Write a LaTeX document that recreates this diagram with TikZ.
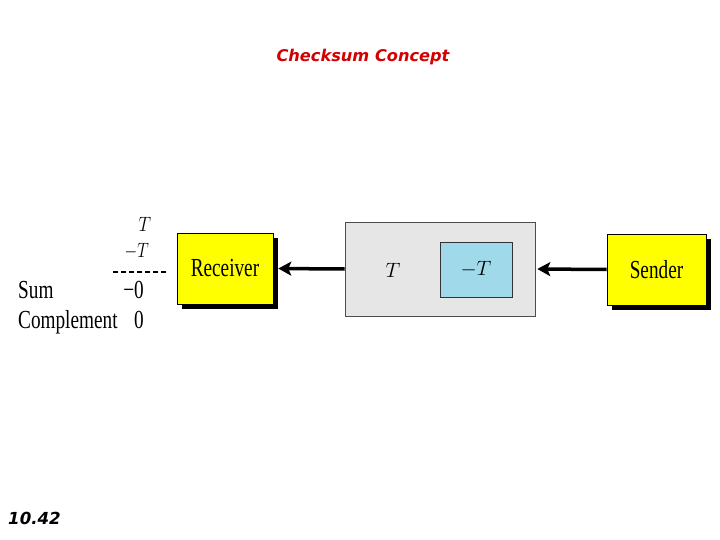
\documentclass[tikz,border=0pt]{standalone}
\usepackage{fontspec}
\usepackage{graphicx}
\setmainfont{Liberation Serif}
\newfontfamily\titlefont{DejaVu Sans}
\usetikzlibrary{arrows.meta,shadows}
\definecolor{boxyellow}{HTML}{FFFF00}
\definecolor{chgray}{HTML}{E6E6E6}
\definecolor{chblue}{HTML}{A0DAEA}
\definecolor{titlered}{HTML}{D40000}
\newcommand{\cond}[1]{\scalebox{0.74}[1]{#1}}
\tikzset{
  ybox/.style={draw=black, line width=0.6pt, fill=boxyellow, minimum width=96pt, minimum height=71pt,
    inner sep=0pt, font=\fontsize{26}{26}\selectfont,
    drop shadow={shadow xshift=5pt, shadow yshift=-5pt, fill=black, opacity=1}},
  arr/.style={line width=3.5pt, -{Stealth[length=13pt,width=14pt,inset=3pt]}},
  lbl/.style={inner sep=0pt, font=\fontsize{26}{26}\selectfont},
  mlbl/.style={inner sep=0pt, font=\fontsize{20}{20}\selectfont},
}
\begin{document}
\begin{tikzpicture}[x=1pt,y=-1pt]
\useasboundingbox (0,0) rectangle (720,540);
\fill[white] (0,0) rectangle (720,540);
\node[inner sep=0pt, text=titlered, font=\titlefont\bfseries\itshape\fontsize{16.2}{16}\selectfont] (title) at (363,57) {Checksum Concept};
\node[inner sep=0pt, anchor=west, font=\titlefont\bfseries\itshape\fontsize{16.6}{16}\selectfont] (pagenum) at (8,518) {10.42};

\node[ybox] (receiver) at (225,268.5) {\cond{Receiver}};
\node[ybox, minimum width=99pt] (sender) at (656.5,269.5) {\cond{Sender}};
\node[draw=black!70, line width=0.6pt, fill=chgray, minimum width=190pt, minimum height=94pt, inner sep=0pt] (channel) at (440,269) {};
\node[draw=black!80, line width=0.8pt, fill=chblue, minimum width=72pt, minimum height=55pt, inner sep=0pt, font=\fontsize{20}{20}\selectfont] (neg) at (476,269.5) {$-T$};
\node[mlbl] (tdata) at (393,270) {$T$};

\draw[arr, shorten >=2pt] (sender.west) -- (channel.east);
\draw[arr, shorten >=5pt] (channel.west) -- (receiver.east);

\node[mlbl, anchor=base] (t1) at (145,232) {\scalebox{0.85}[1]{$T$}};
\node[mlbl, anchor=base east] (t2) at (149,258) {\scalebox{0.78}[1]{$-T$}};
\coordinate (dl) at (113,272);
\coordinate (dr) at (168,272);
\draw[line width=1.2pt, dash pattern=on 5pt off 3pt] (dl) -- (dr);
\node[lbl, anchor=base west] (sum) at (18,298) {\cond{Sum}};
\node[lbl, anchor=base east] (m0) at (144,298) {\cond{−0}};
\node[lbl, anchor=base west] (comp) at (18,328) {\cond{Complement}};
\node[lbl, anchor=base] (z0) at (139,328) {\cond{0}};
\end{tikzpicture}
\end{document}
